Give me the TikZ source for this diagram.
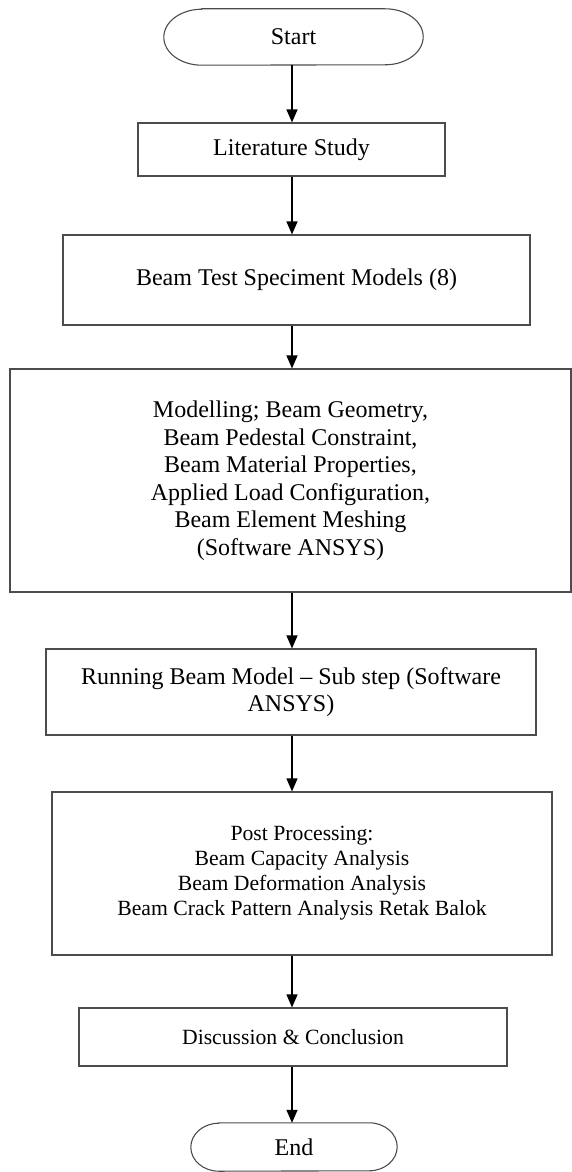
\documentclass[tikz,border=0pt]{standalone}
\usepackage{fontspec}
\setmainfont{Liberation Serif}
\usetikzlibrary{arrows.meta}
\begin{document}
\begin{tikzpicture}[x=1pt,y=-1pt,
  boxline/.style={draw=black!70, line width=1.1pt},
  box/.style={boxline, fill=white, inner sep=0pt, align=center},
  termtext/.style={inner sep=0pt, align=center},
  big/.style={font=\fontsize{24}{27.5}\selectfont},
  small/.style={font=\fontsize{21.7}{25}\selectfont},
  arr/.style={line width=1.4pt, -{Triangle[length=13pt,width=11pt]}}]
\useasboundingbox (0,0) rectangle (572,1172);
\coordinate (ax) at (292,0);
% terminals
\node[termtext,big,minimum width=259pt,minimum height=56pt] (start) at (293.5,37) {Start};
\draw[boxline] ([xshift=38pt]start.north west) -- ([xshift=-38pt]start.north east)
  arc[start angle=90,end angle=-90,x radius=38pt,y radius=28pt]
  -- ([xshift=38pt]start.south west)
  arc[start angle=270,end angle=90,x radius=38pt,y radius=28pt] -- cycle;
\node[box,big,minimum width=307pt,minimum height=53pt] (lit) at (291.5,149.5) {Literature Study};
\node[box,big,minimum width=467pt,minimum height=90pt] (beam) at (296.5,280) {Beam Test Speciment Models (8)};
\node[box,big,minimum width=561pt,minimum height=223pt] (model) at (290.5,480.5) {Modelling; Beam Geometry,\\Beam Pedestal Constraint,\\Beam Material Properties,\\Applied Load Configuration,\\Beam Element Meshing\\(Software ANSYS)};
\node[box,big,minimum width=490pt,minimum height=86pt] (run) at (291,692) {Running Beam Model -- Sub step (Software\\ANSYS)};
\node[box,small,minimum width=500pt,minimum height=163pt] (post) at (302,873.5) {Post Processing:\\Beam Capacity Analysis\\Beam Deformation Analysis\\Beam Crack Pattern Analysis Retak Balok};
\node[box,small,minimum width=428pt,minimum height=58pt] (disc) at (293,1037) {Discussion \& Conclusion};
\node[termtext,big,minimum width=206pt,minimum height=48pt] (end) at (294,1147) {End};
\draw[boxline] ([xshift=28pt]end.north west) -- ([xshift=-28pt]end.north east)
  arc[start angle=90,end angle=-90,x radius=28pt,y radius=24pt]
  -- ([xshift=28pt]end.south west)
  arc[start angle=270,end angle=90,x radius=28pt,y radius=24pt] -- cycle;
% connectors
\draw[arr] (start.south -| ax) -- (lit.north -| ax);
\draw[arr] (lit.south -| ax) -- (beam.north -| ax);
\draw[arr] (beam.south -| ax) -- (model.north -| ax);
\draw[arr] (model.south -| ax) -- (run.north -| ax);
\draw[arr] (run.south -| ax) -- (post.north -| ax);
\draw[arr] (post.south -| ax) -- (disc.north -| ax);
\draw[arr] (disc.south -| ax) -- (end.north -| ax);
\end{tikzpicture}
\end{document}
